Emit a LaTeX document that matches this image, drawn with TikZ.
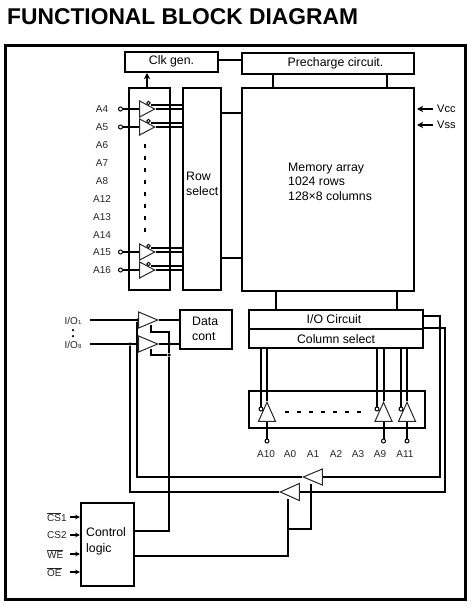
\documentclass[tikz,border=0pt]{standalone}
\usepackage{fontspec}
\setmainfont{Liberation Sans}
\usepackage{tikz}
\usetikzlibrary{arrows.meta,shapes.geometric,calc}
\definecolor{linegrey}{RGB}{40,40,40}
\tikzset{
  base/.style={font=\fontsize{12.3}{14.6}\selectfont, align=left, inner sep=0pt, text=black},
  block/.style={base, rectangle, draw=black, fill=white, line width=2pt, align=center},
  lbl/.style={font=\fontsize{10}{11}\selectfont, inner sep=0pt, text=black!85},
  wire/.style={line width=2pt, draw=black},
  arr/.style={-{Stealth[length=2.2mm,width=2.2mm]}, line width=1.7pt, draw=black},
  buf/.style={isosceles triangle, isosceles triangle stretches, draw=linegrey, fill=white, line width=1pt, inner sep=0pt, minimum width=#1, anchor=apex},
  pin/.style={circle, draw=black, fill=white, line width=1pt, inner sep=0pt, minimum size=4pt},
  dot/.style={circle, fill=black, inner sep=0pt, minimum size=3.5pt},
  dashline/.style={line width=2pt, draw=black, dash pattern=on 4pt off 8pt},
}
\begin{document}
\begin{tikzpicture}[x=1pt,y=-1pt]
  \useasboundingbox (0,0) rectangle (471,609);
  \node[base,anchor=west,font=\fontsize{22.8}{26}\selectfont\bfseries] (title) at (7,17) {FUNCTIONAL BLOCK DIAGRAM};
  \node[draw=black,line width=3pt,minimum width=460pt,minimum height=553pt,inner sep=0pt] (frame) at (235,322.5) {};
  % top row and array
  \node[block,minimum width=93pt,minimum height=20pt] (clk) at (171.5,62) {};
  \node[base] (clktxt) at (171.5,61.5) {Clk gen.};
  \node[block,minimum width=172pt,minimum height=21pt] (pre) at (328,63.5) {};
  \node[base] (pretxt) at (335.5,63.5) {Precharge circuit.};
  \node[block,minimum width=172pt,minimum height=203pt] (mem) at (328,189.5) {};
  \node[base,anchor=west] (memtxt) at (288,181.5) {Memory array\\1024 rows\\128×8 columns};
  \node[block,minimum width=41pt,minimum height=202pt] (addr) at (149.5,189) {};
  \node[block,minimum width=38pt,minimum height=202pt] (row) at (202,189) {};
  \node[base,anchor=west] (rowtxt) at (186,184) {Row\\select};
  \draw[arr] (addr.north -| 147,0) -- (clk.south -| 147,0);
  \draw[wire] (clk.east |- 0,60) -- (pre.west |- 0,60);
  \draw[wire] (row.east |- 0,113) -- (mem.west |- 0,113);
  \draw[wire] (row.east |- 0,258) -- (mem.west |- 0,258);
  \foreach \x in {273,387}{
    \draw[wire] (pre.south -| \x,0) -- (mem.north -| \x,0);
  }
  % power
  \foreach \n/\t/\y in {vcc/Vcc/109,vss/Vss/125}{
    \node[base,anchor=west,font=\fontsize{11}{12}\selectfont] (\n) at (437,\y) {\t};
    \coordinate (\n end) at (417,\y);
    \draw[arr] (\n.west) ++(-4,0) -- (\n end);
  }
  % row address
  \foreach \n/\y in {A6/145,A7/163,A8/181,A12/199,A13/217,A14/235}{
    \node[lbl] (lbl\n) at (102,\y) {\n};
  }
  \foreach \n/\y in {A4/109,A5/127,A15/252,A16/270}{
    \node[lbl] (lbl\n) at (102,\y) {\n};
    \node[pin] (pin\n) at (120.5,\y) {};
    \node[buf=16pt,minimum height=15pt] (buf\n) at (156,\y) {};
    \node[pin,minimum size=3.5pt] (en\n) at (148.5,{\y-6}) {};
    \draw[wire] (pin\n) -- (buf\n.lower side |- pin\n);
    \draw[wire] (buf\n.apex) -- (buf\n.apex -| row.west);
    \draw[wire,line width=1.7pt] (en\n.east) ++(0,2) -- ($(en\n.east -| row.west)+(0,2)$);
  }
  \coordinate (dashtop) at (145,144);
  \coordinate (dashbot) at (145,234);
  \draw[dashline] (dashtop) -- (dashbot);
  % data in and out
  \node[block,minimum width=52pt,minimum height=39pt] (data) at (206,329.5) {};
  \node[base,anchor=west] (datatxt) at (192,329) {Data\\cont};
  \node[lbl,anchor=center] (io1) at (73,321) {I/O{\fontsize{6}{6}\selectfont 1}};
  \node[lbl,anchor=center] (io8) at (73,345) {I/O{\fontsize{6}{6}\selectfont 8}};
  \node[dot,minimum size=2.5pt] (iodota) at (73,330) {};
  \node[dot,minimum size=2.5pt] (iodotb) at (73,336) {};
  \node[buf=16pt,minimum height=19pt] (bufa) at (159,320) {};
  \node[buf=16pt,minimum height=19pt] (bufb) at (159,344) {};
  \coordinate (ina) at (90,320);
  \coordinate (inb) at (90,344);
  \draw[wire] (ina) -- (ina -| bufa.lower side);
  \draw[wire] (inb) -- (inb -| bufb.lower side);
  \draw[wire] (bufa.apex) -- (bufa.apex -| data.west);
  \draw[wire] (bufb.apex) -- (bufb.apex -| data.west);
  \node[dot] (tapa) at (137,320) {};
  \node[dot] (tapb) at (130,344) {};
  \node[dot] (tapc) at (169,355) {};
  % column part
  \node[block,minimum width=174pt,minimum height=19pt] (ioc) at (336,319.5) {};
  \node[base] (ioctxt) at (334,319) {I/O Circuit};
  \node[block,minimum width=174pt,minimum height=19pt] (col) at (336,338.5) {};
  \node[base] (coltxt) at (336,339) {Column select};
  \foreach \x in {276,397}{
    \draw[wire] (mem.south -| \x,0) -- (ioc.north -| \x,0);
  }
  \node[block,minimum width=176pt,minimum height=37pt] (colbuf) at (337,409.5) {};
  \foreach \n/\x/\l in {A10/267/261,A9/383.5/377,A11/407/401}{
    \node[buf=17pt,minimum height=19pt,shape border rotate=90] (buf\n) at (\x,401) {};
    \node[pin] (en\n) at (\l,409) {};
    \node[pin] (pin\n) at (\x,441) {};
    \draw[wire] (col.south -| en\n) -- (en\n.north);
    \draw[wire] (col.south -| buf\n.apex) -- (buf\n.apex);
    \draw[wire] (buf\n.lower side -| pin\n) -- (pin\n);
  }
  \coordinate (dashleft) at (285,412);
  \coordinate (dashright) at (363,412);
  \draw[dashline] (dashleft) -- (dashright);
  \foreach \n/\x in {A10/266,A0/290,A1/313,A2/336,A3/358,A9/380,A11/405}{
    \node[lbl] (lc\n) at (\x,454) {\n};
  }
  % control logic
  \node[block,minimum width=53pt,minimum height=83pt] (ctl) at (107.5,544.5) {};
  \node[base,anchor=west] (ctltxt) at (86,541.5) {Control\\[1pt]logic};
  \foreach \n/\t/\y in {a/$\overline{\mbox{CS}}$1/517,b/CS2/535,c/$\overline{\mbox{WE}}$/554,d/$\overline{\mbox{OE}}$/572}{
    \node[lbl,anchor=west] (sig\n) at (47,\y) {\t};
    \coordinate (sig\n end) at (ctl.west |- 0,\y);
    \draw[-{Stealth[length=1.7mm,width=1.6mm]},line width=1.2pt] (70,\y) -- (sig\n end);
  }
  % return buffers
  \node[buf=16pt,minimum height=19pt,shape border rotate=180] (bufc) at (302,477) {};
  \node[buf=17pt,minimum height=19pt,shape border rotate=180] (bufd) at (279,492) {};
  \draw[wire] (ioc.east |- 0,316) -| (440,477) -- (bufc.lower side |- 0,477);
  \draw[wire] (ioc.east |- 0,328) -| (445,492) -- (bufd.lower side |- 0,492);
  \draw[wire] (tapa) |- (bufc.apex);
  \draw[wire] (tapb) |- (bufd.apex);
  \draw[wire] (ctl.east |- 0,531) -| (tapc) -- (169,332) -- (151,332) -- (151,325);
  \draw[wire] (tapc) -- (151,355) -- (151,349);
  \draw[wire] (ctl.east |- 0,556) -| (288,499);
  \draw[wire] (288,529) -| (311,484);
\end{tikzpicture}
\end{document}
